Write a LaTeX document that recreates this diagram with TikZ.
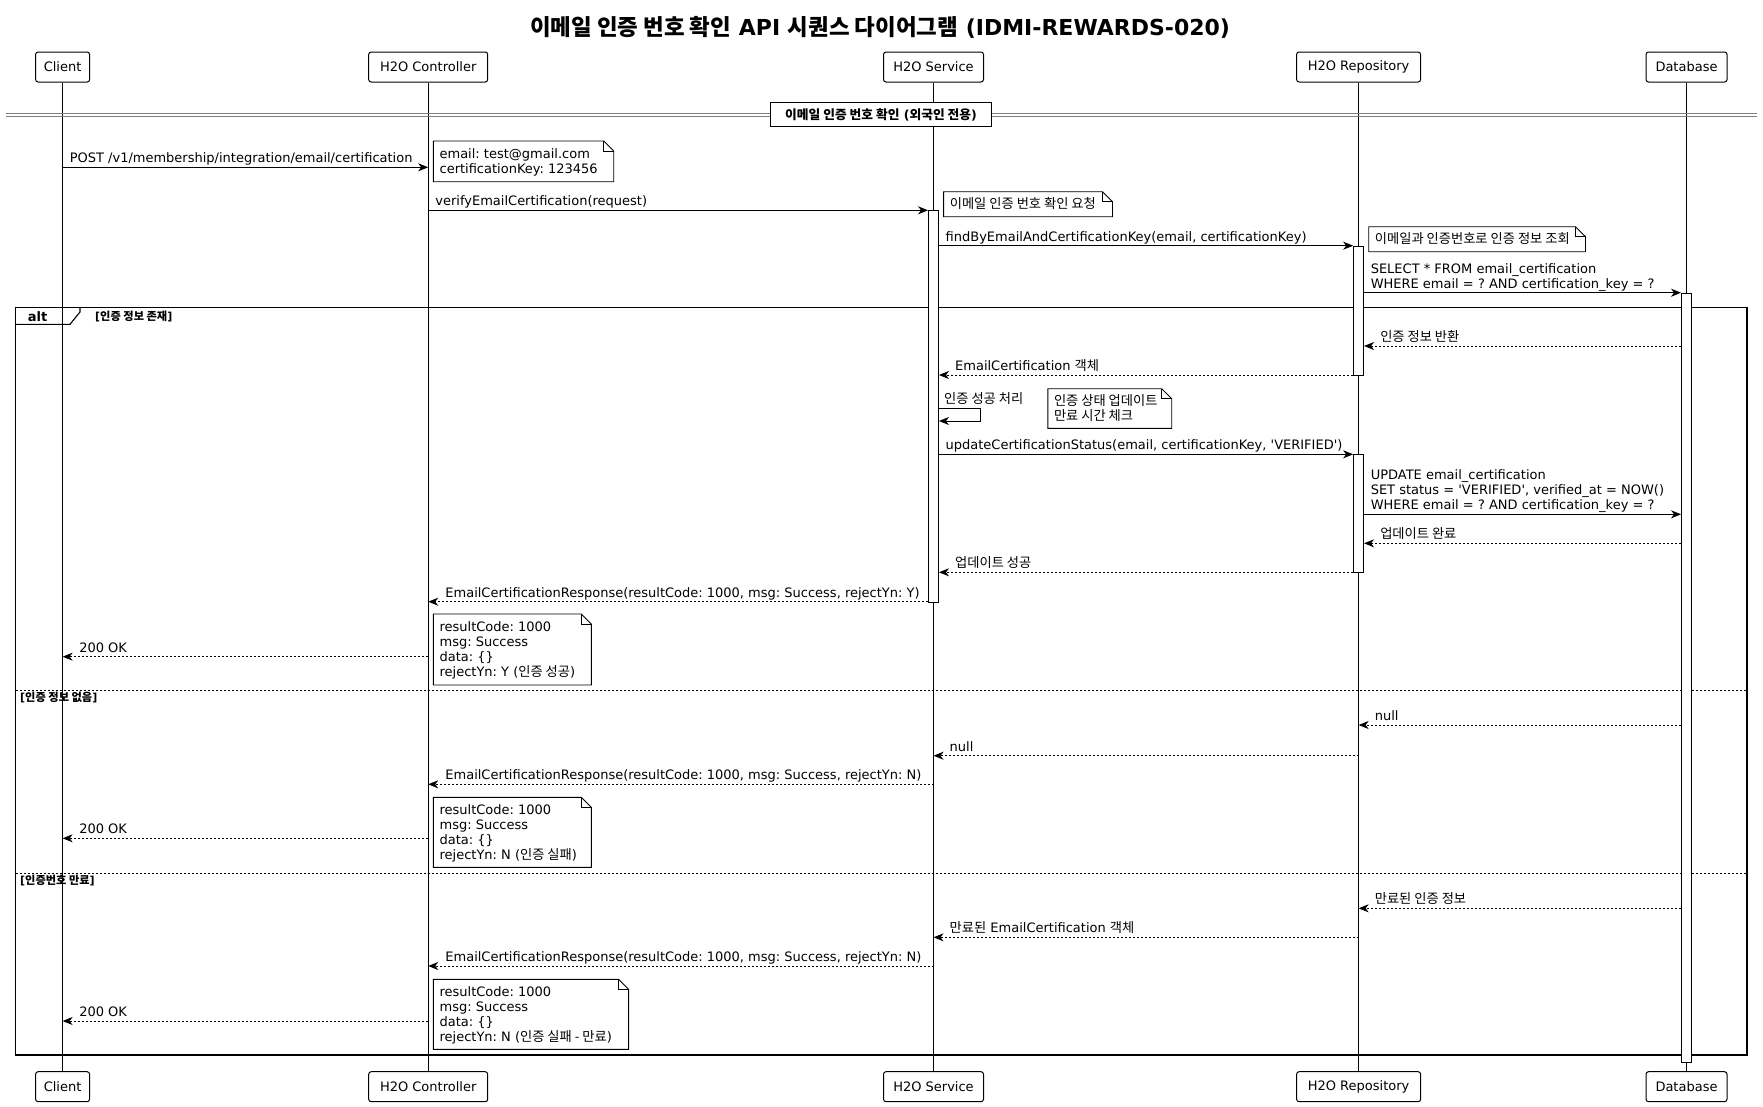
\documentclass[tikz,border=0pt]{standalone}
\usepackage{fontspec}
\setmainfont{DejaVu Sans}
\newfontfamily\krfont[Scale=1.02]{Noto Sans CJK KR}
\newcommand\kr[1]{{\krfont #1}}
\newcommand\msgfont{\fontsize{13}{15.2}\selectfont}
\newcommand\grdfont{\fontsize{11}{13}\selectfont\bfseries}
\newcommand\q{\textquotesingle}
\frenchspacing
\usetikzlibrary{arrows.meta}
\newcommand\mynote[5]{%
  \draw[notebox] (#2,#3) -- ({#4-10},#3) -- (#4,{#3+10}) -- (#4,#5) -- (#2,#5) -- cycle;
  \draw[notefold] ({#4-10},#3) -- ({#4-10},{#3+10}) -- (#4,{#3+10});
  \coordinate (#1) at ({#2+6},{#3+17});
}
\begin{document}
\frenchspacing
\begin{tikzpicture}[x=1pt,y=-1pt,font=\msgfont,
  participant/.style={draw, rounded corners=2.5pt, line width=1pt, minimum height=30pt, inner xsep=3pt, fill=white},
  lifeline/.style={line width=0.6pt},
  act/.style={draw, fill=white, line width=0.9pt, minimum width=10pt, inner sep=0pt},
  callarrow/.style={line width=1pt, -{Stealth[length=10pt,width=8pt,inset=3pt]}},
  retarrow/.style={callarrow, dash pattern=on 2pt off 2pt},
  lbl/.style={anchor=base west, inner sep=0pt},
  notebox/.style={draw, fill=white, line width=0.9pt},
  notefold/.style={draw, line width=0.9pt},
  grd/.style={anchor=base west, inner sep=0pt, font=\grdfont},
  framestyle/.style={line width=1.1pt},
  elsesep/.style={line width=0.9pt, dash pattern=on 2pt off 2pt},
  sepline/.style={line width=1pt, draw=black!50}]
\useasboundingbox (0,0) rectangle (1763,1106);
\fill[white] (0,0) rectangle (1763,1106);

% title
\node[anchor=base, inner sep=0pt, font=\fontsize{22}{26}\selectfont\bfseries] (title) at (880,35.5)
  {\kr{이메일 인증 번호 확인} API \kr{시퀀스 다이어그램} (IDMI-REWARDS-020)};

% participants
\node[participant, minimum width=54pt]  (pC) at (62.6,67) {Client};
\node[participant, minimum width=119pt] (pK) at (428.2,67) {H2O Controller};
\node[participant, minimum width=100pt] (pS) at (933.5,67) {H2O Service};
\node[participant, minimum width=124pt] (pR) at (1358.6,67) {H2O Repository};
\node[participant, minimum width=81pt]  (pD) at (1686.5,67) {Database};
\node[participant, minimum width=54pt]  (pCb) at (62.6,1086.7) {Client};
\node[participant, minimum width=119pt] (pKb) at (428.2,1086.7) {H2O Controller};
\node[participant, minimum width=100pt] (pSb) at (933.5,1086.7) {H2O Service};
\node[participant, minimum width=124pt] (pRb) at (1358.6,1086.7) {H2O Repository};
\node[participant, minimum width=81pt]  (pDb) at (1686.5,1086.7) {Database};

% lifelines
\draw[lifeline] (pC.south) -- (pCb.north);
\draw[lifeline] (pK.south) -- (pKb.north);
\draw[lifeline] (pS.south) -- (pSb.north);
\draw[lifeline] (pR.south) -- (pRb.north);
\draw[lifeline] (pD.south) -- (pDb.north);

% section separator
\draw[sepline] (5.7,113.3) -- (1757,113.3);
\draw[sepline] (5.7,116.3) -- (1757,116.3);
\node[draw, fill=white, line width=0.9pt, minimum width=221.5pt, minimum height=24pt, inner sep=0pt, font=\fontsize{12.5}{14}\selectfont\bfseries] (sep) at (881,114.7)
  {\kr{이메일 인증 번호 확인} (\kr{외국인 전용})};

% alt frame
\draw[framestyle] (15.5,307.5) rectangle (1747,1055);
\draw[framestyle] (15.5,324.3) -- (70,324.3) -- (80,312) -- (80,307.5);
\node[anchor=base, inner sep=0pt, font=\fontsize{13}{15}\selectfont\bfseries] (altlbl) at (37.5,321.5) {alt};
\node[grd] (g1) at (95,320.5) {[\kr{인증 정보 존재}]};
\draw[elsesep] (15.5,690.7) -- (1747,690.7);
\node[grd] (g2) at (20,701) {[\kr{인증 정보 없음}]};
\draw[elsesep] (15.5,873.3) -- (1747,873.3);
\node[grd] (g3) at (20,884) {[\kr{인증번호 만료}]};

% activations
\node[act, minimum height=391.4pt, anchor=north] (aS)  at (pS.south |- 0,210.3) {};
\node[act, minimum height=129.3pt, anchor=north] (aR1) at (pR.south |- 0,245.7) {};
\node[act, minimum height=118pt,   anchor=north] (aR2) at (pR.south |- 0,454.3) {};
\node[act, minimum height=769.6pt, anchor=north] (aD)  at (pD.south |- 0,292.7) {};

% messages
\draw[callarrow] (pC |- 0,167.3) -- (pK |- 0,167.3);
\path (pC |- 0,167.3) ++(7,-4.5) node[lbl] (m1) {POST /v1/membership/integration/email/certification};

\draw[callarrow] (pK |- 0,210.3) -- (aS.west |- 0,210.3);
\path (pK |- 0,210.3) ++(7,-4.5) node[lbl] (m2) {verifyEmailCertification(request)};

\draw[callarrow] (aS.east |- 0,245.7) -- (aR1.west |- 0,245.7);
\path (aS.east |- 0,245.7) ++(6.5,-4.5) node[lbl] (m3) {findByEmailAndCertificationKey(email, certificationKey)};

\draw[callarrow] (aR1.east |- 0,292.7) -- (aD.west |- 0,292.7);
\path (aR1.east |- 0,292.7) ++(6.5,-19.5) node[lbl] (m4a) {SELECT * FROM email\_certification}
      ++(0,15.1) node[lbl] (m4b) {WHERE email = ? AND certification\_key = ?};

\draw[retarrow] (aD.west |- 0,346) -- (aR1.east |- 0,346);
\path (aR1.east |- 0,346) ++(16,-4.5) node[lbl] (m5) {\kr{인증 정보 반환}};

\draw[retarrow] (aR1.west |- 0,375) -- (aS.east |- 0,375);
\path (aS.east |- 0,375) ++(16,-4.5) node[lbl] (m6) {EmailCertification \kr{객체}};

\draw[callarrow] (aS.east |- 0,408.3) -- (980,408.3) -- (980,421) -- (aS.east |- 0,421);
\path (aS.east |- 0,408.3) ++(5,-5) node[lbl] (m7) {\kr{인증 성공 처리}};

\draw[callarrow] (aS.east |- 0,454.3) -- (aR2.west |- 0,454.3);
\path (aS.east |- 0,454.3) ++(6.5,-4.5) node[lbl] (m8) {updateCertificationStatus(email, certificationKey, \q VERIFIED\q)};

\draw[callarrow] (aR2.east |- 0,514.3) -- (aD.west |- 0,514.3);
\path (aR2.east |- 0,514.3) ++(6.5,-35) node[lbl] (m9a) {UPDATE email\_certification}
      ++(0,15.2) node[lbl] (m9b) {SET status = \q VERIFIED\q, verified\_at = NOW()}
      ++(0,15.2) node[lbl] (m9c) {WHERE email = ? AND certification\_key = ?};

\draw[retarrow] (aD.west |- 0,543.3) -- (aR2.east |- 0,543.3);
\path (aR2.east |- 0,543.3) ++(16,-4.5) node[lbl] (m10) {\kr{업데이트 완료}};

\draw[retarrow] (aR2.west |- 0,572.3) -- (aS.east |- 0,572.3);
\path (aS.east |- 0,572.3) ++(16,-4.5) node[lbl] (m11) {\kr{업데이트 성공}};

\draw[retarrow] (aS.west |- 0,601.7) -- (pK |- 0,601.7);
\path (pK |- 0,601.7) ++(17,-4.5) node[lbl] (m12) {EmailCertificationResponse(resultCode: 1000, msg: Success, rejectYn: Y)};

\draw[retarrow] (pK |- 0,656.7) -- (pC |- 0,656.7);
\path (pC |- 0,656.7) ++(16.5,-4.5) node[lbl] (m13) {200 OK};

% else 1
\draw[retarrow] (aD.west |- 0,725) -- (pR |- 0,725);
\path (pR |- 0,725) ++(16,-4.5) node[lbl] (m14) {null};

\draw[retarrow] (pR |- 0,755.7) -- (pS |- 0,755.7);
\path (pS |- 0,755.7) ++(16,-4.5) node[lbl] (m15) {null};

\draw[retarrow] (pS |- 0,784.3) -- (pK |- 0,784.3);
\path (pK |- 0,784.3) ++(17,-4.5) node[lbl] (m16) {EmailCertificationResponse(resultCode: 1000, msg: Success, rejectYn: N)};

\draw[retarrow] (pK |- 0,838.3) -- (pC |- 0,838.3);
\path (pC |- 0,838.3) ++(16.5,-4.5) node[lbl] (m17) {200 OK};

% else 2
\draw[retarrow] (aD.west |- 0,908.3) -- (pR |- 0,908.3);
\path (pR |- 0,908.3) ++(16,-4.5) node[lbl] (m18) {\kr{만료된 인증 정보}};

\draw[retarrow] (pR |- 0,937.3) -- (pS |- 0,937.3);
\path (pS |- 0,937.3) ++(16,-4.5) node[lbl] (m19) {\kr{만료된} EmailCertification \kr{객체}};

\draw[retarrow] (pS |- 0,966) -- (pK |- 0,966);
\path (pK |- 0,966) ++(17,-4.5) node[lbl] (m20) {EmailCertificationResponse(resultCode: 1000, msg: Success, rejectYn: N)};

\draw[retarrow] (pK |- 0,1021) -- (pC |- 0,1021);
\path (pC |- 0,1021) ++(16.5,-4.5) node[lbl] (m21) {200 OK};

% notes
\mynote{n1}{433.4}{141}{613.7}{181.7}
\path (n1) node[lbl] (n1a) {email: test@gmail.com}
      ++(0,15.2) node[lbl] (n1b) {certificationKey: 123456};

\mynote{n2}{943.6}{191.7}{1112.5}{216.7}
\path (n2) ++(0,-0.5) node[lbl] (n2a) {\kr{이메일 인증 번호 확인 요청}};

\mynote{n3}{1368.7}{226.7}{1585.5}{251.7}
\path (n3) ++(0,-0.5) node[lbl] (n3a) {\kr{이메일과 인증번호로 인증 정보 조회}};

\mynote{n4}{1047.8}{388.7}{1171.7}{428.3}
\path (n4) node[lbl] (n4a) {\kr{인증 상태 업데이트}}
      ++(0,15.2) node[lbl] (n4b) {\kr{만료 시간 체크}};

\mynote{n5}{433.4}{614}{591.3}{685}
\path (n5) node[lbl] (n5a) {resultCode: 1000}
      ++(0,15.2) node[lbl] (n5b) {msg: Success}
      ++(0,15.2) node[lbl] (n5c) {data: \{\}}
      ++(0,15.2) node[lbl] (n5d) {rejectYn: Y (\kr{인증 성공})};

\mynote{n6}{433.4}{797.3}{591.3}{867.3}
\path (n6) node[lbl] (n6a) {resultCode: 1000}
      ++(0,15.2) node[lbl] (n6b) {msg: Success}
      ++(0,15.2) node[lbl] (n6c) {data: \{\}}
      ++(0,15.2) node[lbl] (n6d) {rejectYn: N (\kr{인증 실패})};

\mynote{n7}{433.4}{979.3}{628.6}{1049.3}
\path (n7) node[lbl] (n7a) {resultCode: 1000}
      ++(0,15.2) node[lbl] (n7b) {msg: Success}
      ++(0,15.2) node[lbl] (n7c) {data: \{\}}
      ++(0,15.2) node[lbl] (n7d) {rejectYn: N (\kr{인증 실패 - 만료})};
\end{tikzpicture}
\end{document}
